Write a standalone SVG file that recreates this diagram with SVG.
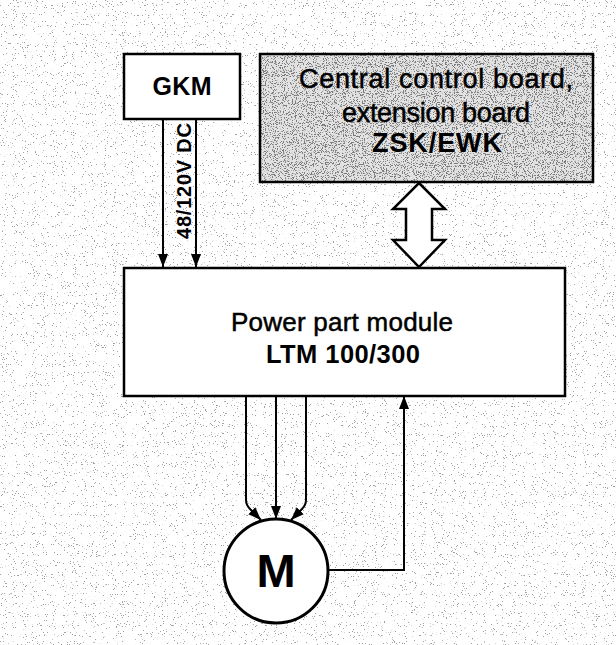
<svg xmlns="http://www.w3.org/2000/svg" width="616" height="645" viewBox="0 0 616 645">
<style>
.box{fill:#fff;stroke:#000;stroke-width:2.5}
.ln{fill:none;stroke:#000;stroke-width:2}
.t{font-family:"Liberation Sans",Arial,sans-serif;fill:#000;text-anchor:middle}
.r{stroke:#000;stroke-width:0.5}
.b{font-weight:bold}
</style>
<defs>
<marker id="ah" viewBox="0 0 13 11" refX="13" refY="5.5" markerWidth="13" markerHeight="11" markerUnits="userSpaceOnUse" orient="auto">
<path d="M0,0.5 L13,5.5 L0,10.5 Z" fill="#000"/>
</marker>
<filter id="speck" x="0" y="0" width="100%" height="100%">
<feTurbulence type="fractalNoise" baseFrequency="0.9" numOctaves="2" seed="7"/>
<feColorMatrix type="matrix" values="0 0 0 0 0.35  0 0 0 0 0.35  0 0 0 0 0.35  -22 0 0 0 7.0"/>
</filter>
<filter id="dense" x="0" y="0" width="100%" height="100%">
<feTurbulence type="fractalNoise" baseFrequency="0.9" numOctaves="2" seed="11"/>
<feColorMatrix type="matrix" values="0 0 0 0 0.2  0 0 0 0 0.2  0 0 0 0 0.2  -14 0 0 0 6.3"/>
</filter>
</defs>
<rect width="616" height="645" fill="#fff"/>
<rect width="616" height="645" filter="url(#speck)"/>

<g id="gkm">
<rect class="box" x="124" y="54" width="116" height="65"/>
<text class="t b" x="182" y="95" font-size="25" textLength="59">GKM</text>
</g>

<g id="central">
<rect x="260" y="54" width="333" height="128" fill="#e2e2e2"/>
<rect x="260" y="54" width="333" height="128" filter="url(#dense)"/>
<rect x="260" y="54" width="333" height="128" fill="none" stroke="#000" stroke-width="2.5"/>
<text class="t r" x="436" y="88" font-size="27" textLength="274">Central control board,</text>
<text class="t r" x="436" y="122" font-size="27" textLength="188">extension board</text>
<text class="t b" x="437" y="152" font-size="27" textLength="130">ZSK/EWK</text>
</g>

<g id="power">
<rect class="box" x="124" y="268" width="441" height="128"/>
<text class="t r" x="342" y="331" font-size="26" textLength="222">Power part module</text>
<text class="t b" x="343" y="363" font-size="25.5" textLength="154">LTM 100/300</text>
</g>

<g id="motor">
<circle cx="276" cy="571" r="52" fill="#fff" stroke="#000" stroke-width="3"/>
<text class="t b" x="276" y="587" font-size="47">M</text>
</g>

<g id="connectors">
<line class="ln" x1="163" y1="119" x2="163" y2="267" marker-end="url(#ah)"/>
<line class="ln" x1="196" y1="119" x2="196" y2="267" marker-end="url(#ah)"/>
<text class="t b" transform="translate(191,181) rotate(-90)" font-size="20" textLength="116">48/120V DC</text>
<polygon points="419,183 445,209 432,209 432,240 445,240 419,267 393,240 406,240 406,209 393,209" fill="#fff" stroke="#000" stroke-width="2.5" stroke-linejoin="miter"/>
<path class="ln" d="M246,396 V500 Q246,505 250,509 L261,520" marker-end="url(#ah)"/>
<line class="ln" x1="276" y1="396" x2="276" y2="519" marker-end="url(#ah)"/>
<path class="ln" d="M306,396 V500 Q306,505 302,509 L291,520" marker-end="url(#ah)"/>
<path class="ln" d="M328,570 H404 V396" marker-end="url(#ah)"/>
</g>
</svg>
